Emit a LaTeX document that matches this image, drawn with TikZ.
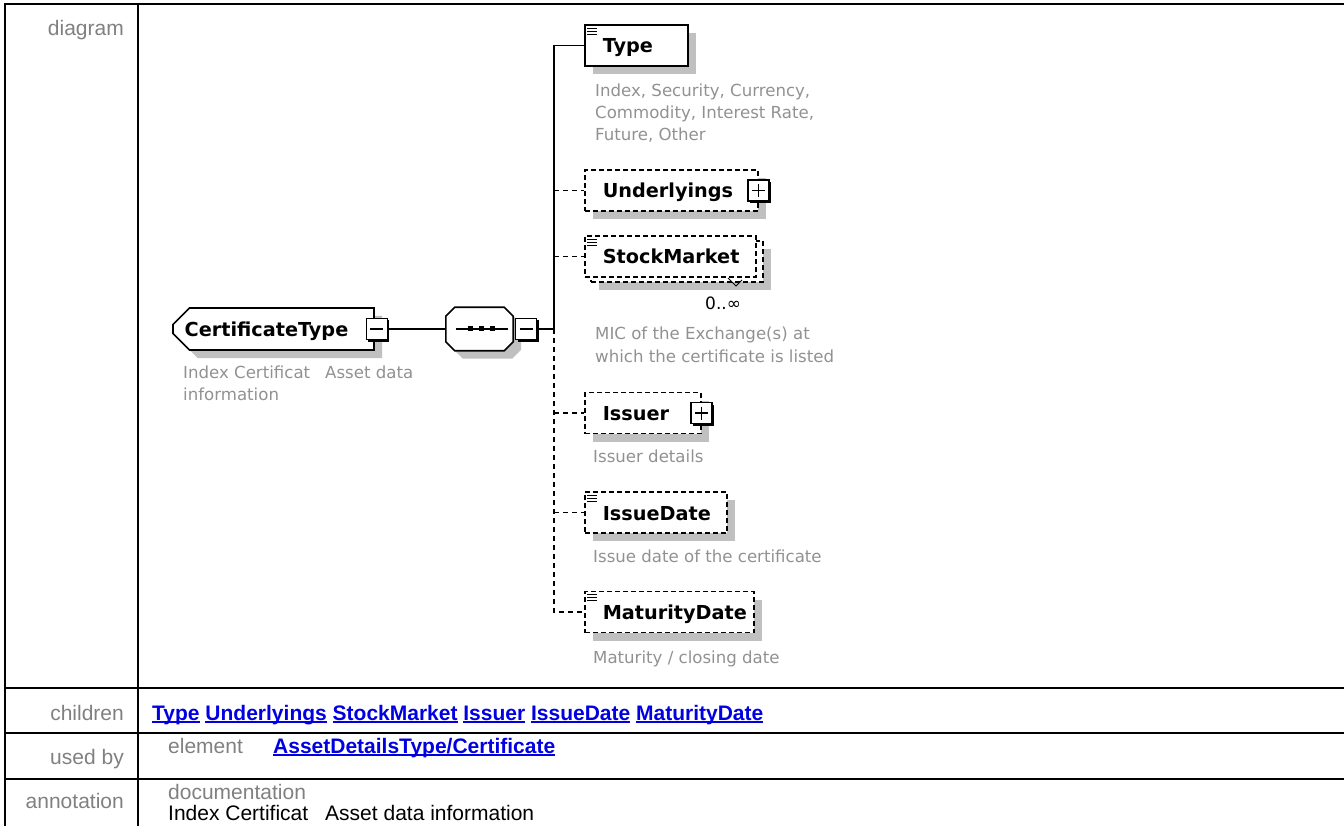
\documentclass[tikz,border=0pt]{standalone}
\usepackage{fontspec}
\setmainfont{Liberation Sans}
\newfontfamily\diafont{DejaVu Sans}
\usetikzlibrary{shapes.misc,shadows,positioning}
\definecolor{labelgray}{RGB}{128,128,128}
\definecolor{descgray}{RGB}{145,145,145}
\definecolor{shadowgray}{RGB}{192,192,192}
\definecolor{linkblue}{RGB}{0,0,224}
\newcommand\lnk[1]{\setbox0\hbox{#1}\rlap{\rule[-3pt]{\wd0}{1.8pt}}\box0\relax}
\newcommand\docmark[1]{%
  \foreach \dy in {4,7,10}{\draw[line width=1.1pt] ([xshift=3pt,yshift=-\dy pt]#1.north west) -- ++(10pt,0pt);}}
\tikzset{
  elembase/.style={draw,line width=1.6pt,fill=white,inner sep=0pt,minimum height=41pt,
    text height=15pt,text depth=0pt,align=left,anchor=west,
    font=\diafont\bfseries\fontsize{19.25}{23}\selectfont,execute at begin node=\hspace*{18pt}},
  shadowed/.style={general shadow={fill=shadowgray,shadow xshift=8pt,shadow yshift=-8pt}},
  elembox/.style={elembase,shadowed},
  optbox/.style={elembox,dash pattern=on 5pt off 3pt},
  optfront/.style={elembase,dash pattern=on 5pt off 3pt},
  pmbox/.style={draw,line width=1.5pt,fill=white,minimum size=21pt,inner sep=0pt,
    general shadow={fill=black,shadow xshift=2pt,shadow yshift=-2pt}},
  minusbox/.style={pmbox,path picture={\draw[line width=1.5pt]
    ([xshift=4pt]path picture bounding box.west) -- ([xshift=-4pt]path picture bounding box.east);}},
  plusbox/.style={pmbox,path picture={\draw[line width=1.5pt]
    ([xshift=4pt]path picture bounding box.west) -- ([xshift=-4pt]path picture bounding box.east)
    ([yshift=-4pt]path picture bounding box.north) -- ([yshift=4pt]path picture bounding box.south);}},
  desc/.style={anchor=base west,inner sep=0pt,align=left,text=descgray,
    font=\diafont\fontsize{16.6}{22}\selectfont},
  conn/.style={line width=1.6pt},
  optconn/.style={conn,dash pattern=on 5pt off 4pt},
  tabline/.style={line width=2.2pt},
  rowlabel/.style={anchor=base east,inner sep=0pt,text=labelgray,font=\fontsize{21}{25}\selectfont},
  minorlabel/.style={anchor=base west,inner sep=0pt,text=labelgray,font=\fontsize{21}{25}\selectfont},
  link/.style={anchor=base west,inner sep=0pt,text=linkblue,font=\bfseries\fontsize{21}{25}\selectfont},
}
\begin{document}
\begin{tikzpicture}[x=1pt,y=-1pt]
\useasboundingbox (0,0) rectangle (1344,826);
% table frame
\draw[tabline] (4,4) -- (1344,4);
\draw[tabline] (5,4) -- (5,826);
\draw[tabline] (138,4) -- (138,826);
\foreach \yy in {688,733,779} \draw[tabline] (5,\yy) -- (1344,\yy);
\node[rowlabel] (lbldiag) at (124,36) {diagram};
\node[rowlabel] (lblkids) at (124,720) {children};
\node[rowlabel] (lblused) at (124,764) {used by};
\node[rowlabel] (lblanno) at (124,808) {annotation};

% complex type and sequence
\node[draw,line width=1.6pt,fill=white,shadowed,chamfered rectangle,
  chamfered rectangle corners={north west,south west},chamfered rectangle sep=9pt,
  minimum width=201pt,minimum height=42pt,inner sep=0pt,text height=15pt,text depth=0pt,
  font=\diafont\bfseries\fontsize{19.25}{23}\selectfont] (ctype) at (273.5,329) {CertificateType\hspace*{14pt}};
\node[minusbox] (ctminus) at ([xshift=2pt]ctype.east) {};
\node[desc] (ctdesc) at (183,400) {Index Certificat\hspace{15pt}Asset data\\information};
\node[minimum width=67pt,minimum height=43pt,inner sep=0pt] (seq) at (479.5,329) {};
\draw[line width=1.6pt,fill=white,shadowed]
  ([xshift=9pt]seq.north west) -- ([xshift=-9pt]seq.north east) -- ([yshift=-9pt]seq.north east)
  -- ([yshift=9pt]seq.south east) -- ([xshift=-9pt]seq.south east) -- ([xshift=9pt]seq.south west)
  -- ([yshift=9pt]seq.south west) -- ([yshift=-9pt]seq.north west) -- cycle;
\draw[line width=1.6pt] ([xshift=-24pt]seq.center) -- ([xshift=28pt]seq.center);
\foreach \dx in {-9,2,13} \fill ([xshift=\dx pt-2.5pt,yshift=-2.5pt]seq.center) rectangle ++(5,-5);
\node[minusbox] (seqminus) at ([xshift=13pt]seq.east) {};
\coordinate (hub) at (554,329);

% children
\node[elembox,text width=103pt] (type) at (584,45.5) {Type};
\docmark{type}
\node[desc] (typedesc) at (595,141) {Index, Security, Currency,\\Commodity, Interest Rate,\\Future, Other};
\node[optbox,text width=173pt] (under) at (584,190.5) {Underlyings};
\node[plusbox] (underplus) at (under.east) {};
\node[optbox,text width=172pt,minimum height=41pt] (smback) at (590,261.5) {};
\node[optfront,text width=171pt] (stock) at (584,256.5) {StockMarket};
\docmark{stock}
\draw[line width=1pt] (728,278) -- (736,286) -- (742,280);
\node[anchor=base west,inner sep=0pt,font=\diafont\fontsize{17}{20}\selectfont] (stockocc) at (705,310) {0..∞};
\node[desc] (stockdesc) at (595,362) {MIC of the Exchange(s) at\\which the certificate is listed};
\node[optbox,text width=116pt] (issuer) at (584,413) {Issuer};
\node[plusbox] (issuerplus) at (issuer.east) {};
\node[desc] (issuerdesc) at (593,462) {Issuer details};
\node[optbox,text width=142pt] (issdate) at (584,512.5) {IssueDate};
\docmark{issdate}
\node[desc] (issdatedesc) at (593,562) {Issue date of the certificate};
\node[optbox,text width=169pt] (matdate) at (584,612) {MaturityDate};
\docmark{matdate}
\node[desc] (matdatedesc) at (593,663) {Maturity / closing date};

% connectors
\draw[conn] (ctminus.east) -- (seq.west);
\draw[conn] (seqminus.east) -- (hub) -- (hub |- type.west) -- (type.west);
\draw[optconn] (hub) -- (hub |- matdate.west) -- (matdate.west);
\draw[optconn] (hub |- under.west) -- (under.west);
\draw[optconn] (hub |- stock.west) -- (stock.west);
\draw[optconn] (hub |- issuer.west) -- (issuer.west);
\draw[optconn] (hub |- issdate.west) -- (issdate.west);

% lower rows
\node[link] (kids) at (152,720) {\lnk{Type} \lnk{Underlyings} \lnk{StockMarket} \lnk{Issuer} \lnk{IssueDate} \lnk{MaturityDate}};
\node[minorlabel] (elemlbl) at (168,753) {element};
\node[link] (usedlink) at (273,753) {\lnk{AssetDetailsType/Certificate}};
\node[minorlabel] (doclbl) at (168,799) {documentation};
\node[anchor=base west,inner sep=0pt,font=\fontsize{21}{25}\selectfont] (doctext) at (168,820) {Index Certificat\hspace{17pt}Asset data information};
\end{tikzpicture}
\end{document}
